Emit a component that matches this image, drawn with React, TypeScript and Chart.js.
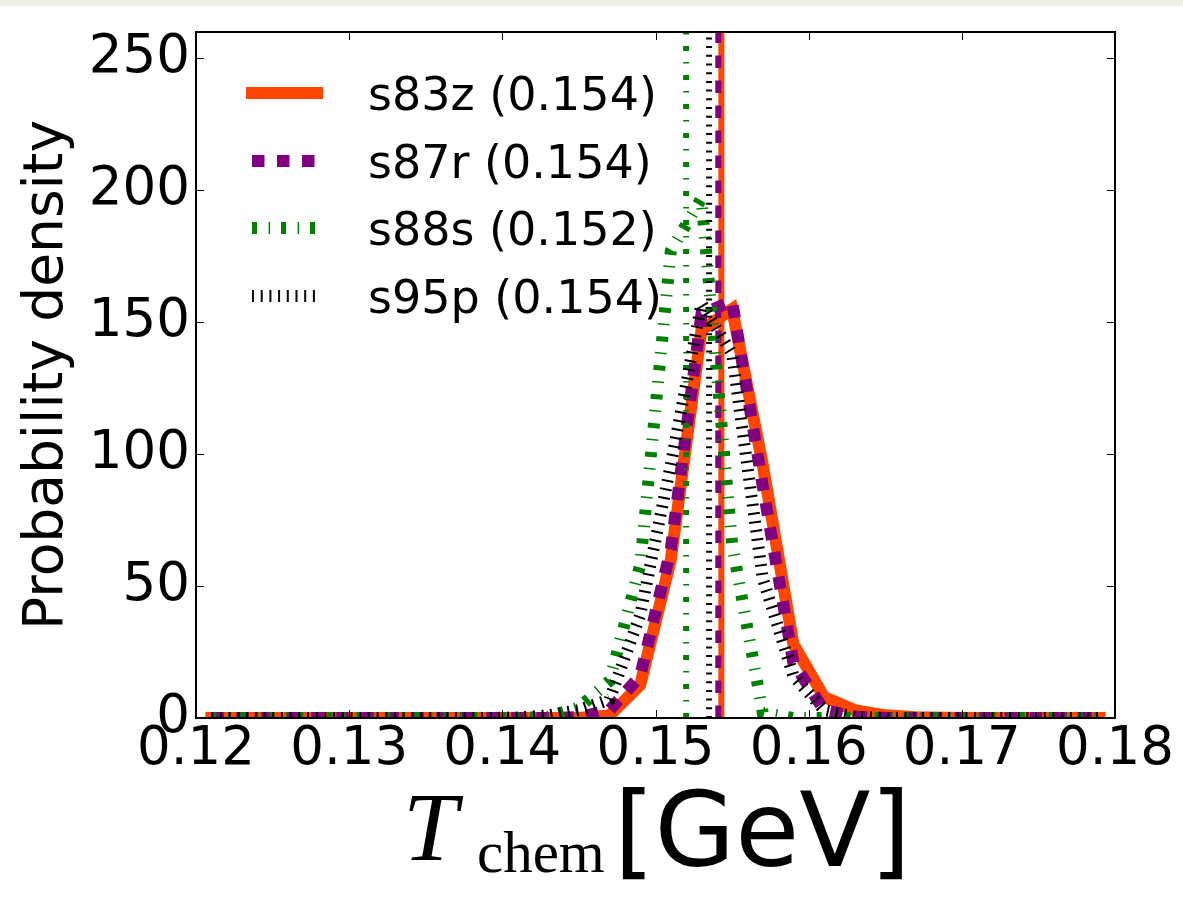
import React, { useEffect, useRef } from "react";
import { Chart, registerables } from "chart.js";

Chart.register(...registerables);

// ---- data ----
const temperatures = [
  0.121, 0.123, 0.125, 0.127, 0.129, 0.131, 0.133, 0.135, 0.137, 0.139,
  0.141, 0.143, 0.145, 0.147, 0.149, 0.151, 0.153, 0.155, 0.157, 0.159,
  0.161, 0.163, 0.165, 0.167, 0.169, 0.171, 0.173, 0.175, 0.177, 0.179,
];
const densityS83z = [0, 0, 0, 0, 0, 0, 0, 0, 0, 0, 0, 0, 0, 1, 12.5, 60, 147, 155, 96, 28, 8, 3, 1, 0.3, 0.1, 0, 0, 0, 0, 0];
const densityS87r = [0, 0, 0, 0, 0, 0, 0, 0, 0, 0, 0, 0, 0.3, 3, 16, 64, 153, 158, 88, 21, 3, 0.5, 0, 0, 0, 0, 0, 0, 0, 0];
const densityS88s = [0, 0, 0, 0, 0, 0, 0, 0, 0, 0, 0, 0.5, 4, 14, 58, 177, 197, 66, 2, 0, 0, 0, 0, 0, 0, 0, 0, 0, 0, 0];
const densityS95p = [0, 0, 0, 0, 0, 0, 0, 0, 0, 0, 0.2, 1, 3, 7, 39, 96, 157, 138, 53, 16, 3, 0.5, 0, 0, 0, 0, 0, 0, 0, 0];
const seriesNames = ["s83z", "s87r", "s88s", "s95p"];
const seriesMeans = [0.1543, 0.1541, 0.152, 0.1535];
const meanLabels = ["0.154", "0.154", "0.152", "0.154"];
const xTicks = [0.12, 0.13, 0.14, 0.15, 0.16, 0.17, 0.18];
const yTicks = [0, 50, 100, 150, 200, 250];
const yAxisTitle = "Probability density";
const xTitleMain = "T";
const xTitleSub = "chem";
const xTitleUnit = "[GeV]";

// ---- styles ----
const allSeries = [densityS83z, densityS87r, densityS88s, densityS95p];
const colors = ["#ff4500", "#800080", "#008000", "#000000"];
const dashes: number[][] = [[], [12.5, 12.5], [5, 11.6, 1.5, 10.9], [2, 6.7]];
const caps = ["square", "butt", "butt", "butt"];
const SANS = "'DejaVu Sans', sans-serif";

const decorPlugin = {
  id: "decor",
  beforeDraw(chart: any) {
    const ctx = chart.ctx;
    ctx.save();
    ctx.fillStyle = "#ffffff";
    ctx.fillRect(0, 0, chart.width, chart.height);
    ctx.fillStyle = "#f0f0e6";
    ctx.fillRect(0, 0, chart.width, 6);
    ctx.restore();
  },
  afterDatasetsDraw(chart: any) {
    const ctx = chart.ctx;
    const rowY = [93, 161, 228, 296];
    ctx.save();
    for (let i = 0; i < 4; i++) {
      const y = rowY[i];
      ctx.beginPath();
      ctx.strokeStyle = colors[i];
      ctx.lineWidth = 12;
      ctx.setLineDash(dashes[i]);
      ctx.lineCap = caps[i];
      ctx.moveTo(252, y);
      ctx.lineTo(317, y);
      ctx.stroke();
      ctx.setLineDash([]);
      ctx.fillStyle = "#000";
      ctx.font = `46px ${SANS}`;
      ctx.textBaseline = "alphabetic";
      ctx.textAlign = "left";
      ctx.fillText(`${seriesNames[i]} (${meanLabels[i]})`, 368, y + 17);
    }
    ctx.restore();
  },
  afterDraw(chart: any) {
    const ctx = chart.ctx;
    const { left, right, top, bottom } = chart.chartArea;
    const xs = chart.scales.x;
    const ys = chart.scales.y;
    ctx.save();
    ctx.strokeStyle = "#000";
    ctx.lineWidth = 1;
    ctx.beginPath();
    for (const v of xTicks) {
      const px = Math.round(xs.getPixelForValue(v)) + 0.5;
      ctx.moveTo(px, bottom);
      ctx.lineTo(px, bottom - 8);
      ctx.moveTo(px, top);
      ctx.lineTo(px, top + 8);
    }
    for (const v of yTicks) {
      const py = Math.round(ys.getPixelForValue(v)) + 0.5;
      ctx.moveTo(left, py);
      ctx.lineTo(left + 8, py);
      ctx.moveTo(right, py);
      ctx.lineTo(right - 8, py);
    }
    ctx.stroke();
    ctx.lineWidth = 2;
    ctx.strokeRect(left, top, right - left, bottom - top);

    // x axis title
    ctx.fillStyle = "#000";
    ctx.textBaseline = "alphabetic";
    ctx.textAlign = "left";
    ctx.font = `italic 98px 'Liberation Serif', serif`;
    ctx.fillText(xTitleMain, 403, 860);
    ctx.font = `59px 'Liberation Serif', serif`;
    ctx.fillText(xTitleSub, 477, 872);
    ctx.font = `104px ${SANS}`;
    ctx.fillText(xTitleUnit, 614, 866);
    ctx.restore();
  },
};

export default function App() {
  const ref = useRef<HTMLCanvasElement | null>(null);
  useEffect(() => {
    if (!ref.current) return;
    const datasets: any[] = [];
    for (let i = 0; i < 4; i++) {
      datasets.push({
        label: seriesNames[i],
        data: temperatures.map((t, j) => ({ x: t, y: allSeries[i][j] })),
        borderColor: colors[i],
        borderWidth: 12,
        borderDash: dashes[i],
        borderCapStyle: caps[i],
        borderJoinStyle: "miter",
        pointRadius: 0,
        tension: 0,
        fill: false,
        clip: 0,
        order: 20 - 2 * i,
      });
      datasets.push({
        label: seriesNames[i] + " mean",
        data: [
          { x: seriesMeans[i], y: 0 },
          { x: seriesMeans[i], y: 400 },
        ],
        borderColor: colors[i],
        borderWidth: 6,
        borderDash: dashes[i],
        borderCapStyle: "butt",
        pointRadius: 0,
        fill: false,
        clip: 0,
        order: 19 - 2 * i,
      });
    }
    const chart = new Chart(ref.current, {
      type: "line",
      data: { datasets },
      plugins: [decorPlugin],
      options: {
        animation: false,
        responsive: false,
        devicePixelRatio: 1,
        layout: { padding: { left: 0, top: 32, right: 68, bottom: 0 } },
        plugins: { legend: { display: false }, tooltip: { enabled: false } },
        scales: {
          x: {
            type: "linear",
            min: 0.12,
            max: 0.18,
            afterBuildTicks: (s: any) => {
              s.ticks = xTicks.map((v) => ({ value: v }));
            },
            afterFit: (s: any) => {
              s.height = 191;
              s.paddingLeft = 0;
              s.paddingRight = 0;
            },
            grid: { display: false, drawTicks: false },
            border: { display: false },
            ticks: {
              color: "#000",
              padding: 0,
              maxRotation: 0,
              autoSkip: false,
              font: { family: SANS, size: 53 },
              callback: (v: any) => Number(v).toFixed(2),
            },
          },
          y: {
            type: "linear",
            min: 0,
            max: 260,
            afterBuildTicks: (s: any) => {
              s.ticks = yTicks.map((v) => ({ value: v }));
            },
            afterFit: (s: any) => {
              s.width = 196;
              s.paddingTop = 0;
              s.paddingBottom = 0;
            },
            grid: { display: false, drawTicks: false },
            border: { display: false },
            title: {
              display: true,
              text: yAxisTitle,
              color: "#000",
              font: { family: SANS, size: 55 },
              padding: { top: 15, bottom: 0 },
            },
            ticks: {
              color: "#000",
              padding: 6,
              autoSkip: false,
              font: { family: SANS, size: 53 },
              callback: (v: any) => String(v),
            },
          },
        },
      },
    });
    return () => chart.destroy();
  }, []);
  return (
    <div style={{ position: "absolute", left: 0, top: 0, width: 1183, height: 909 }}>
      <canvas ref={ref} width={1183} height={909} style={{ width: 1183, height: 909, display: "block" }} />
    </div>
  );
}
